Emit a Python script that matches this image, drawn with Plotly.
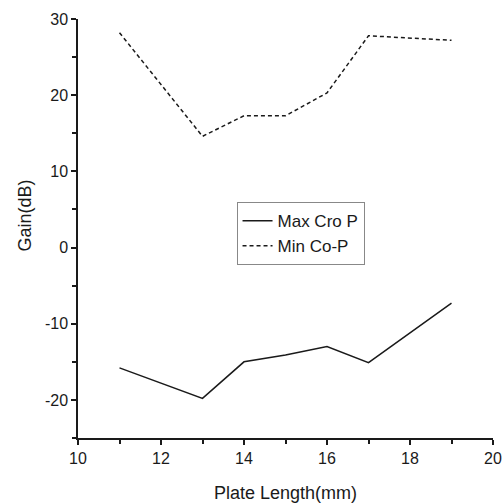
import plotly.graph_objects as go

plate_length = [11, 13, 14, 15, 16, 17, 19]
max_cro_p = [-15.8, -19.8, -15.0, -14.1, -13.0, -15.1, -7.3]
min_co_p = [28.2, 14.6, 17.3, 17.3, 20.3, 27.8, 27.2]

x_ticks = [10, 12, 14, 16, 18, 20]
y_ticks = [-20, -10, 0, 10, 20, 30]
y_tick_labels = ["-20", "-10", "0", "10", "20", "30"]

font_family = "Liberation Sans, Arial, sans-serif"
ink = "#1a1a1a"

fig = go.Figure()
fig.add_trace(go.Scatter(x=plate_length, y=max_cro_p, mode="lines", name="Max Cro P",
                         line=dict(color=ink, width=1.5)))
fig.add_trace(go.Scatter(x=plate_length, y=min_co_p, mode="lines", name="Min Co-P",
                         line=dict(color=ink, width=1.5, dash="4px,3px")))

fig.update_layout(
    width=502, height=504,
    margin=dict(l=78, r=9, t=19, b=66),
    plot_bgcolor="white", paper_bgcolor="white",
    font=dict(family=font_family, color=ink, size=16),
    showlegend=True,
    legend=dict(x=0.382, y=0.563, xanchor="left", yanchor="top",
                bordercolor="#888888", borderwidth=1, bgcolor="white",
                font=dict(size=17), tracegroupgap=0),
    xaxis=dict(range=[10, 20], tickmode="array", tickvals=x_ticks,
               showline=True, linecolor=ink, linewidth=1.5, automargin=False,
               ticks="outside", ticklen=5, tickwidth=1.5, tickcolor=ink,
               minor=dict(ticks="outside", ticklen=4, dtick=1, tickcolor=ink, tickwidth=1.5),
               showgrid=False, zeroline=False,
               tickfont=dict(size=16)),
    yaxis=dict(range=[-25, 30], tickmode="array", tickvals=y_ticks, ticktext=y_tick_labels,
               showline=True, linecolor=ink, linewidth=1.5, automargin=False,
               ticks="outside", ticklen=5, tickwidth=1.5, tickcolor=ink,
               minor=dict(ticks="outside", ticklen=4, dtick=5, tickcolor=ink, tickwidth=1.5),
               showgrid=False, zeroline=False,
               tickfont=dict(size=16)),
    annotations=[
        dict(text="Plate Length(mm)", xref="paper", yref="paper", x=0.5, y=0,
             xanchor="center", yanchor="middle", yshift=-55, showarrow=False,
             font=dict(size=18, color=ink)),
        dict(text="Gain(dB)", xref="paper", yref="paper", x=0, y=0.5,
             xanchor="center", yanchor="middle", xshift=-54, yshift=13, textangle=-90,
             showarrow=False, font=dict(size=18, color=ink)),
    ],
)

fig.write_html("out.html")
